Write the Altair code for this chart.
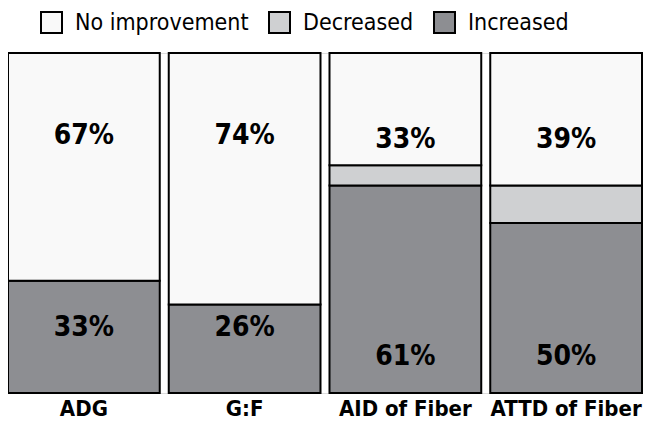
import altair as alt
import pandas as pd

metrics = ["ADG", "G:F", "AID of Fiber", "ATTD of Fiber"]
increased = [33, 26, 61, 50]
decreased = [0, 0, 6, 11]
no_improvement = [67, 74, 33, 39]
categories = ["No improvement", "Decreased", "Increased"]
colors = ["#f9f9f9", "#cfd0d2", "#8d8e92"]
# where each percentage label sits (in % of bar height)
top_label_at = [75.5, 75.5, 74.5, 74.5]
bottom_label_at = [19, 19, 10.5, 10.5]

rows = []
for i, m in enumerate(metrics):
    start = 0
    for cat, vals in [("Increased", increased), ("Decreased", decreased), ("No improvement", no_improvement)]:
        v = vals[i]
        if v > 0:
            rows.append({"metric": m, "cat": cat, "start": start, "end": start + v})
        start += v
bars_df = pd.DataFrame(rows)

lab_rows = []
for i, m in enumerate(metrics):
    lab_rows.append({"metric": m, "pos": top_label_at[i], "txt": f"{no_improvement[i]}%"})
    lab_rows.append({"metric": m, "pos": bottom_label_at[i], "txt": f"{increased[i]}%"})
lab_df = pd.DataFrame(lab_rows)

FONT = "DejaVu Sans Condensed, Liberation Sans, sans-serif"

x = alt.X("metric:N", sort=metrics, title=None,
          scale=alt.Scale(paddingInner=0.056, paddingOuter=0),
          axis=alt.Axis(labelAngle=0, labelFont=FONT, labelFontSize=22, labelFontWeight="bold",
                        labelColor="black", domain=False, ticks=False, labelPadding=5,
                        labelLimit=200))
yscale = alt.Scale(domain=[0, 100], nice=False)

bars = alt.Chart(bars_df).mark_bar(stroke="black", strokeWidth=2).encode(
    x=x,
    y=alt.Y("start:Q", scale=yscale, axis=None),
    y2="end:Q",
    color=alt.Color("cat:N", scale=alt.Scale(domain=categories, range=colors),
                    legend=alt.Legend(title=None, orient="none", direction="horizontal",
                                      legendX=32, legendY=-42, symbolType="square",
                                      symbolSize=441, symbolStrokeColor="black",
                                      symbolStrokeWidth=2, symbolOpacity=1,
                                      labelFont=FONT, labelFontSize=23, labelColor="black",
                                      labelOffset=12, columnPadding=16, padding=0,
                                      labelLimit=400)),
)

labels = alt.Chart(lab_df).mark_text(font=FONT, fontSize=28, fontWeight="bold", color="black",
                                     baseline="middle").encode(
    x=alt.X("metric:N", sort=metrics),
    y=alt.Y("pos:Q", scale=yscale),
    text="txt:N",
)

chart = alt.layer(bars, labels).properties(
    width=634, height=340,
    autosize=alt.AutoSizeParams(type="none"),
    padding={"left": 0, "top": 45, "right": 5, "bottom": 40},
).configure_view(stroke=None).configure(background="white")

chart.save("out.html", embed_options={"renderer": "svg", "actions": False})
